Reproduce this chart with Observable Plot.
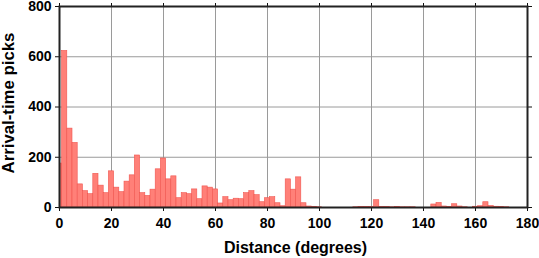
<!DOCTYPE html>
<html>
<head>
<meta charset="utf-8">
<script src="https://cdn.jsdelivr.net/npm/d3@7"></script>
<script src="https://cdn.jsdelivr.net/npm/@observablehq/plot@0.6"></script>
<style>
  html, body { margin: 0; padding: 0; background: #fff; }
</style>
</head>
<body>
<div id="chart"></div>
<script>
// Bin centers (degrees), bins are 2 degrees wide
const binCenters = [0,2,4,6,8,10,12,14,16,18,20,22,24,26,28,30,32,34,36,38,40,42,44,46,48,50,52,54,56,58,60,62,64,66,68,70,72,74,76,78,80,82,84,86,88,90,92,94,96,98,100,102,104,106,108,110,112,114,116,118,120,122,124,126,128,130,132,134,136,138,140,142,144,146,148,150,152,154,156,158,160,162,164,166,168,170,172,174,176,178,180];
// Arrival-time pick counts per bin
const picks = [175,623,314,257,92,65,53,134,87,57,144,79,61,103,128,207,57,46,71,152,195,112,124,37,57,53,72,33,84,79,72,16,41,29,35,33,57,65,49,21,37,41,17,5,112,71,120,17,4,2,1,0,0,0,0,0,0,1,2,2,2,29,2,2,1,2,1,1,1,0,0,0,12,18,4,2,13,4,1,0,3,5,21,6,3,2,1,0,0,0,0];
const binWidth = 2;
const xTicks = [0,20,40,60,80,100,120,140,160,180];
const yTicks = [0,200,400,600,800];
const xLabel = "Distance (degrees)";
const yLabel = "Arrival-time picks";

const rows = binCenters.map((c, i) => ({x1: c - binWidth / 2, x2: c + binWidth / 2, count: picks[i]}));

const chart = Plot.plot({
  width: 539,
  height: 258,
  marginLeft: 59,
  marginRight: 12,
  marginTop: 6,
  marginBottom: 51,
  style: {fontFamily: "'Liberation Sans', Arial, sans-serif", fontSize: "14px", fontWeight: "bold", background: "#fff", overflow: "visible"},
  x: {domain: [0, 180]},
  y: {domain: [0, 800]},
  marks: [
    Plot.gridX(xTicks, {stroke: "#9a9a9a", strokeOpacity: 1, strokeWidth: 1}),
    Plot.gridY(yTicks, {stroke: "#9a9a9a", strokeOpacity: 1, strokeWidth: 1}),
    Plot.rectY(rows, {x1: "x1", x2: "x2", y: "count", fill: "#ff8078", stroke: "#f0554f", strokeWidth: 0.6, clip: true}),
    Plot.axisX({anchor: "bottom", ticks: xTicks, tickSize: 4, tickPadding: 7, label: null, stroke: "#111", fill: "#000"}),
    Plot.axisX({anchor: "top", ticks: xTicks, tickSize: 4, tickFormat: () => "", label: null, stroke: "#111"}),
    Plot.axisY({anchor: "left", ticks: yTicks, tickSize: 4, tickPadding: 4, label: null, stroke: "#111", fill: "#000"}),
    Plot.axisY({anchor: "right", ticks: yTicks, tickSize: 4, tickFormat: () => "", label: null, stroke: "#111"}),
    Plot.frame({stroke: "#222", strokeWidth: 2}),
    Plot.text([xLabel], {frameAnchor: "bottom", textAnchor: "middle", lineAnchor: "middle", dx: 2, dy: 40, fontSize: 16, fontWeight: "bold", fill: "#000"}),
    Plot.text([yLabel], {frameAnchor: "left", textAnchor: "middle", lineAnchor: "middle", dx: -51, dy: -4, rotate: -90, fontSize: 16.8, fontWeight: "bold", fill: "#000"})
  ]
});
document.getElementById("chart").appendChild(chart);
</script>
</body>
</html>
